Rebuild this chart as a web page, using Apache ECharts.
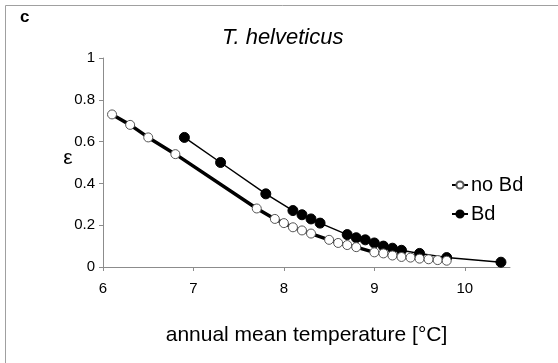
<!DOCTYPE html>
<html>
<head>
<meta charset="utf-8">
<script src="https://cdn.jsdelivr.net/npm/echarts@6/dist/echarts.min.js"></script>
<style>
  html, body { margin: 0; padding: 0; background: #fff; }
  #chart { width: 558px; height: 363px; }
</style>
</head>
<body>
<div id="chart"></div>
<script>
// values
var noBdTemp = [6.1, 6.3, 6.5, 6.8, 7.7, 7.9, 8.0, 8.1, 8.2, 8.3, 8.5, 8.6, 8.7, 8.8, 9.0, 9.1, 9.2, 9.3, 9.4, 9.5, 9.6, 9.7, 9.8]
var noBdEps = [0.73, 0.68, 0.62, 0.54, 0.28, 0.23, 0.21, 0.19, 0.175, 0.16, 0.13, 0.115, 0.105, 0.095, 0.07, 0.065, 0.055, 0.048, 0.045, 0.04, 0.037, 0.033, 0.03]
var bdTemp = [6.9, 7.3, 7.8, 8.1, 8.2, 8.3, 8.4, 8.7, 8.8, 8.9, 9.0, 9.1, 9.2, 9.3, 9.5, 9.8, 10.4]
var bdEps = [0.62, 0.50, 0.35, 0.27, 0.25, 0.23, 0.21, 0.155, 0.14, 0.13, 0.115, 0.10, 0.09, 0.08, 0.065, 0.045, 0.023]
var xTicks = [6, 7, 8, 9, 10]
var seriesNames = ['no Bd', 'Bd']

function pairs(xs, ys) {
  return xs.map(function (x, i) { return [x, ys[i]] })
}

var font = 'Liberation Sans, Arial, sans-serif'
var axisGray = '#8c8c8c'

var option = {
  animation: false,
  backgroundColor: '#fff',
  textStyle: { fontFamily: font },
  title: {
    text: 'T. helveticus',
    left: 217,
    top: 22,
    textStyle: { fontSize: 22, fontStyle: 'italic', fontWeight: 'normal', color: '#000', fontFamily: font }
  },
  graphic: [
    {
      type: 'rect',
      shape: { x: 5.5, y: 5.5, width: 600, height: 400 },
      style: { fill: 'none', stroke: '#a0a0a0', lineWidth: 1 },
      silent: true
    },
    {
      type: 'text',
      left: 20,
      top: 9,
      style: { text: 'c', fontSize: 17, fontWeight: 'bold', fill: '#000', fontFamily: font }
    },
    {
      type: 'text',
      x: 68,
      y: 158,
      style: { text: 'ε', fontSize: 21, fill: '#000', fontFamily: font, align: 'center', verticalAlign: 'middle' }
    }
  ],
  legend: {
    orient: 'vertical',
    left: 451,
    top: 175,
    padding: 0,
    itemWidth: 16,
    itemHeight: 9,
    itemGap: 9,
    data: seriesNames,
    textStyle: { fontSize: 20, color: '#000', fontFamily: font, padding: [0, 0, 0, -2] }
  },
  grid: { left: 103, right: 48, top: 58, bottom: 96 },
  xAxis: {
    type: 'value',
    min: 6,
    max: 10.5,
    interval: 1,
    name: 'annual mean temperature [°C]',
    nameLocation: 'middle',
    nameGap: 58,
    nameTextStyle: { fontSize: 21, color: '#000', fontFamily: font },
    splitLine: { show: false },
    axisLine: { lineStyle: { color: axisGray, width: 1 } },
    axisTick: { show: true, length: 4, lineStyle: { color: axisGray }, customValues: xTicks },
    axisLabel: { fontSize: 15, color: '#000', margin: 14, customValues: xTicks }
  },
  yAxis: {
    type: 'value',
    min: 0,
    max: 1,
    interval: 0.2,
    splitLine: { show: false },
    axisLine: { show: true, lineStyle: { color: axisGray, width: 1 } },
    axisTick: { show: true, length: 4, lineStyle: { color: axisGray } },
    axisLabel: { fontSize: 15, color: '#000', margin: 8 }
  },
  series: [
    {
      name: seriesNames[0],
      type: 'line',
      data: pairs(noBdTemp, noBdEps),
      symbol: 'circle',
      symbolSize: 9,
      lineStyle: { color: '#000', width: 3.5 },
      itemStyle: { color: '#fff', borderColor: '#555', borderWidth: 1 },
      z: 3
    },
    {
      name: seriesNames[1],
      type: 'line',
      data: pairs(bdTemp, bdEps),
      symbol: 'circle',
      symbolSize: 10,
      lineStyle: { color: '#000', width: 1.5 },
      itemStyle: { color: '#000', borderColor: '#000', borderWidth: 1 },
      z: 2
    }
  ]
}

var myChart = echarts.init(document.getElementById('chart'))
myChart.setOption(option)
</script>
</body>
</html>
